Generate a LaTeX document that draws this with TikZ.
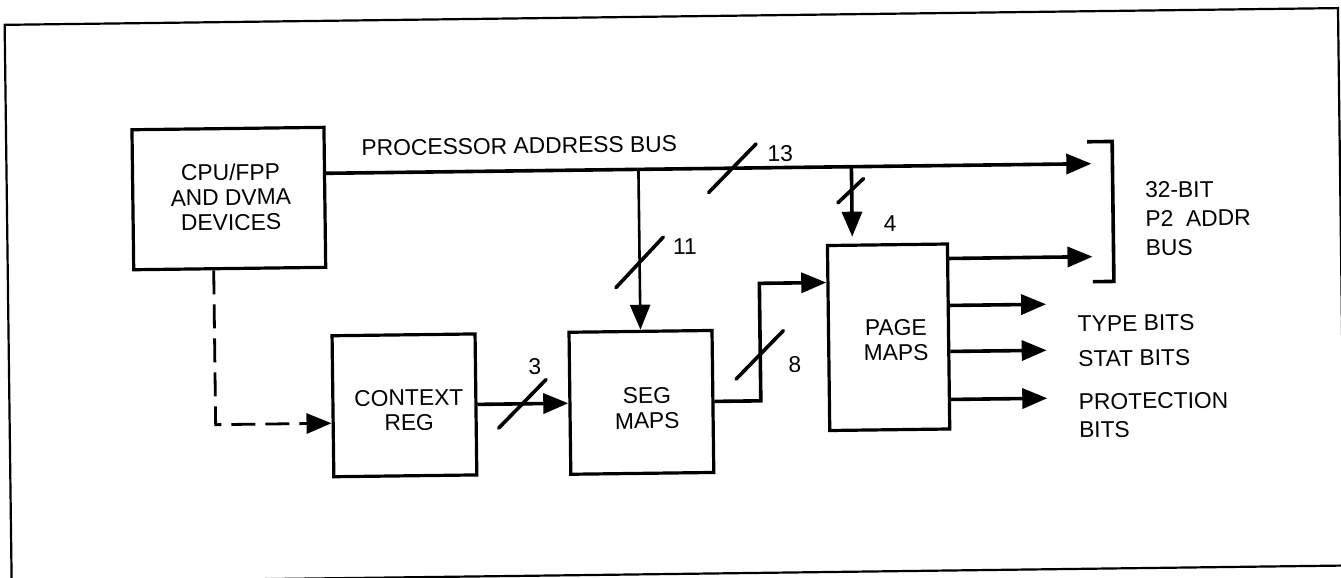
\documentclass[tikz,border=0pt]{standalone}
\usepackage{fontspec}
\setmainfont{Liberation Sans}
\usetikzlibrary{arrows.meta,calc}
\begin{document}
\begin{tikzpicture}[x=0.5pt,y=-0.5pt,
  lbl/.style={inner sep=0pt, font=\fontsize{11.4}{12.5}\selectfont},
  boxtext/.style={lbl, align=center},
  sidetext/.style={inner sep=0pt, align=left, anchor=west, font=\fontsize{11.4}{14.5}\selectfont},
  block/.style 2 args={draw, line width=1.6pt, inner sep=0pt,
    minimum width=#1*0.5pt, minimum height=#2*0.5pt},
  wire/.style={line width=1.8pt},
  tapwire/.style={line width=1.3pt},
  tip/.style={-{Triangle[length=12.5pt,width=10pt]}},
  slash/.style={line width=1.8pt, line cap=round},
  dashwire/.style={line width=1.4pt, dash pattern=on 12pt off 5pt},
  frame/.style={line width=1.1pt},
]
\useasboundingbox (0,0) rectangle (1341,578);
\begin{scope}[rotate around={0.72:(670,290)}, transform shape]

% outer frame
\draw[frame] (8,16.5) rectangle (1341.5,574);

% blocks
\node[block={192}{140}] (cpu)  at (230,193) {};
\node[boxtext] at (232,191.6) {CPU/FPP\\AND DVMA\\DEVICES};
\node[block={143}{141}] (ctx)  at (403,402) {};
\node[boxtext] at (407.5,407) {CONTEXT\\REG};
\node[block={143}{142}] (seg)  at (640,402) {};
\node[boxtext] at (645.6,408) {SEG\\MAPS};
\node[block={120}{185}] (page) at (888,340) {};
\node[boxtext] at (895.4,343) {PAGE\\MAPS};

% processor address bus
\coordinate (bus) at (0,169);
\coordinate (busend) at (1093,169);
\draw[wire,tip] (cpu.east |- bus) -- (busend);
\node[lbl, anchor=west] at (363,144) {PROCESSOR ADDRESS BUS};
\coordinate (s13) at (734,169);
\draw[slash] ($(s13)+(-24,24)$) -- ($(s13)+(24,-24)$);
\node[lbl] at (782,155) {13};

% bus tap into the segment maps
\draw[tapwire,tip] (seg.north |- bus) -- (seg.north);
\coordinate (s11) at (640,262);
\draw[slash] ($(s11)+(-24,25)$) -- ($(s11)+(24,-25)$);
\node[lbl] at (685.5,247) {11};

% bus tap into the page maps
\coordinate (ptap) at (853,239);
\draw[wire,tip] (ptap |- bus) -- (ptap);
\coordinate (s4) at (852,193);
\draw[slash] ($(s4)+(-13,12)$) -- ($(s4)+(13,-12)$);
\node[lbl] at (891,226) {4};

% context register
\coordinate (dcorner) at (214,419);
\draw[dashwire,tip] (cpu.south -| dcorner) |- (ctx.west |- dcorner);
\draw[wire,tip] (ctx.east) -- (seg.west);
\coordinate (s3) at (521,402);
\draw[slash] ($(s3)+(-24,24)$) -- ($(s3)+(24,-24)$);
\node[lbl] at (534,364.5) {3};

% segment maps to page maps
\coordinate (jog) at (759.5,284.5);
\draw[wire,tip] (seg.east) -| (jog) -- (page.west |- jog);
\coordinate (s8) at (759,356);
\draw[slash] ($(s8)+(-24,24)$) -- ($(s8)+(24,-24)$);
\node[lbl] at (794,366.5) {8};

% page maps outputs
\coordinate (addrend) at (1093,262);
\coordinate (typeend) at (1046,309);
\coordinate (statend) at (1046,355);
\coordinate (protend) at (1046,403);
\draw[wire,tip] (page.east |- addrend) -- (addrend);
\draw[wire,tip] (page.east |- typeend) -- (typeend);
\draw[wire,tip] (page.east |- statend) -- (statend);
\draw[wire,tip] (page.east |- protend) -- (protend);

% 32-bit P2 address bus bracket
\draw[wire] (1089,147) -- (1114,147) -- (1114,287) -- (1093,287);
\node[sidetext] at (1146,225) {32-BIT\\P2\ \ ADDR\\BUS};

\node[lbl, anchor=west] at (1077,329) {TYPE BITS};
\node[lbl, anchor=west] at (1077,364) {STAT BITS};
\node[sidetext, font=\fontsize{11.4}{14}\selectfont] at (1077,421) {PROTECTION\\BITS};

\end{scope}
\end{tikzpicture}
\end{document}
